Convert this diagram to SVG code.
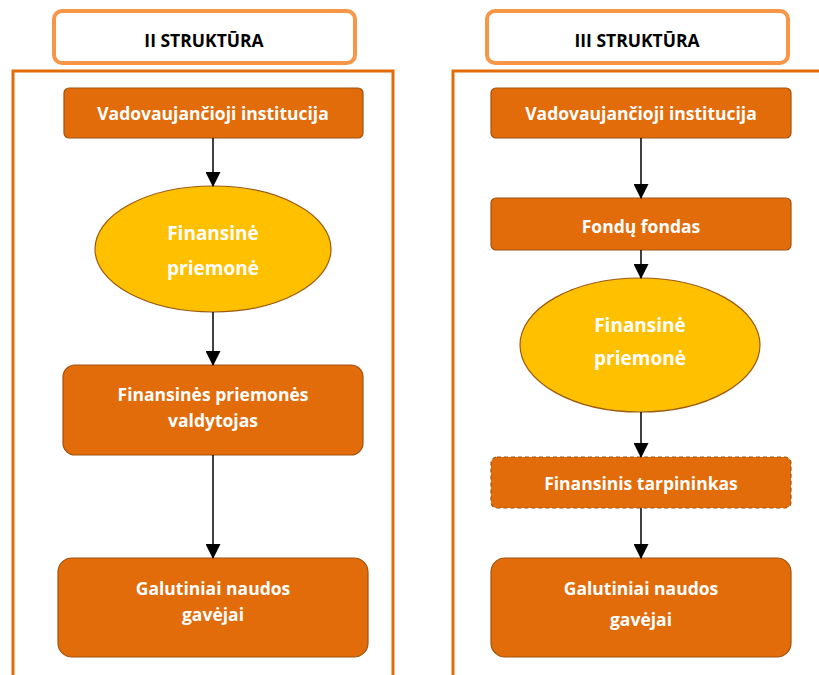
<svg xmlns="http://www.w3.org/2000/svg" width="819" height="675" viewBox="0 0 819 675">
<defs>
<marker id="ah" markerWidth="15" markerHeight="15" refX="14" refY="7.5" orient="auto" markerUnits="userSpaceOnUse">
<path d="M0,0 L15,7.5 L0,15 Z" fill="#000"/>
</marker>
<style>
.hdr{fill:#fff;stroke:#F79646;stroke-width:4}
.cont{fill:none;stroke:#E36C0A;stroke-width:3}
.box{fill:#E36C0A;stroke:#A0520E;stroke-width:1.2}
.dash{stroke-dasharray:4 3}
.ell{fill:#FFC000;stroke:#9C5A12;stroke-width:1.2}
.ht{font-family:"Open Sans","Liberation Sans",sans-serif;font-weight:bold;font-size:17.5px;fill:#000;text-anchor:middle}
.t{font-family:"Open Sans","Liberation Sans",sans-serif;font-weight:bold;font-size:17.5px;fill:#fff;text-anchor:middle}
.te{font-family:"Open Sans","Liberation Sans",sans-serif;font-weight:bold;font-size:19px;fill:#fff;text-anchor:middle}
.c{stroke:#000;stroke-width:1.5;fill:none;marker-end:url(#ah)}
</style>
</defs>
<rect width="819" height="675" fill="#fff"/>
<rect class="cont" x="13" y="71" width="380" height="620"/>
<rect class="cont" x="453" y="71" width="400" height="620"/>
<g id="hdr2"><rect class="hdr" x="54" y="11" width="301" height="52" rx="8"/><text class="ht" x="204" y="47">II STRUKTŪRA</text></g>
<g id="hdr3"><rect class="hdr" x="487" y="11" width="301" height="52" rx="8"/><text class="ht" x="637" y="47">III STRUKTŪRA</text></g>
<g id="l-vad"><rect class="box" x="64" y="88" width="299" height="50" rx="5"/><text class="t" x="213" y="120">Vadovaujančioji institucija</text></g>
<g id="l-fp"><ellipse class="ell" cx="213" cy="249" rx="118" ry="63"/><text class="te" x="213" y="240">Finansinė</text><text class="te" x="213" y="275">priemonė</text></g>
<g id="l-val"><rect class="box" x="63" y="365" width="300" height="90" rx="12"/><text class="t" x="213" y="401">Finansinės priemonės</text><text class="t" x="213" y="427">valdytojas</text></g>
<g id="l-gal"><rect class="box" x="58" y="558" width="310" height="99" rx="14"/><text class="t" x="213" y="595">Galutiniai naudos</text><text class="t" x="213" y="621">gavėjai</text></g>
<g id="r-vad"><rect class="box" x="491" y="88" width="300" height="50" rx="5"/><text class="t" x="641" y="120">Vadovaujančioji institucija</text></g>
<g id="r-ff"><rect class="box" x="491" y="198" width="300" height="52" rx="5"/><text class="t" x="641" y="233">Fondų fondas</text></g>
<g id="r-fp"><ellipse class="ell" cx="640" cy="345" rx="120" ry="67"/><text class="te" x="640" y="332">Finansinė</text><text class="te" x="640" y="365">priemonė</text></g>
<g id="r-tar"><rect class="box dash" x="491" y="457" width="300" height="51" rx="6"/><text class="t" x="641" y="490">Finansinis tarpininkas</text></g>
<g id="r-gal"><rect class="box" x="491" y="558" width="300" height="99" rx="14"/><text class="t" x="641" y="595">Galutiniai naudos</text><text class="t" x="641" y="626">gavėjai</text></g>
<g id="connectors">
<line class="c" x1="213" y1="138" x2="213" y2="186"/>
<line class="c" x1="213" y1="312" x2="213" y2="365"/>
<line class="c" x1="213" y1="455" x2="213" y2="558"/>
<line class="c" x1="641" y1="138" x2="641" y2="198"/>
<line class="c" x1="641" y1="250" x2="641" y2="278"/>
<line class="c" x1="641" y1="412" x2="641" y2="457"/>
<line class="c" x1="641" y1="508" x2="641" y2="558"/>
</g>
</svg>
